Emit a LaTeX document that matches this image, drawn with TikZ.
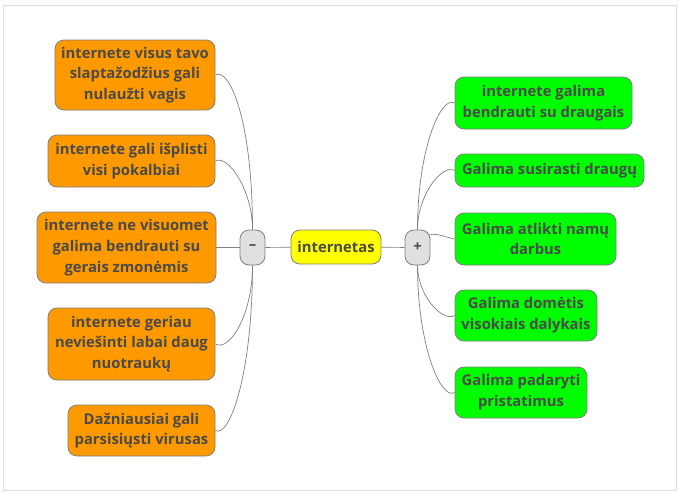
\documentclass[tikz,border=0pt]{standalone}
\usepackage{fontspec}
\setmainfont{Open Sans}
\definecolor{boxline}{HTML}{7F7F7F}
\definecolor{txt}{HTML}{4A4A4A}
\definecolor{orangebox}{HTML}{FF9900}
\definecolor{greenbox}{HTML}{00FF00}
\definecolor{yellowbox}{HTML}{FFFF00}
\definecolor{signbox}{HTML}{E0E0E0}
\definecolor{link}{HTML}{808080}
\definecolor{frame}{HTML}{DDDDDD}
\begin{document}
\begin{tikzpicture}[x=1pt,y=-1pt,
	main node/.style = {draw=boxline, rounded corners=9pt, line width=0.8pt, text=txt, align=center,
		inner sep=0pt, font=\bfseries\fontsize{14.8}{20.8}\selectfont},
	bad node/.style = {main node, fill=orangebox},
	good node/.style = {main node, fill=greenbox},
	sign node/.style = {main node, fill=signbox, minimum width=25pt, minimum height=35pt},
	branch/.style = {draw=link, line width=0.7pt}]

\useasboundingbox (0,0) rectangle (679,493);
\draw[frame, line width=1pt] (3.5,5.5) rectangle (676.5,490.5);

% centre and the two signs
\node[main node,fill=yellowbox,minimum width=90pt,minimum height=34pt] (c) at (336,247) {internetas};
\node[sign node] (m) at (252.5,247.5) {–};
\node[sign node] (p) at (417.5,247.5) {+};

% minus side
\node[bad node,minimum width=160pt,minimum height=70pt] (l1) at (135,75) {internete visus tavo\\slaptažodžius gali\\nulaužti vagis};
\node[bad node,minimum width=167pt,minimum height=52pt] (l2) at (131.5,161) {internete gali išplisti\\visi pokalbiai};
\node[bad node,minimum width=179pt,minimum height=71pt] (l3) at (126.5,247.5) {internete ne visuomet\\galima bendrauti su\\gerais zmonėmis};
\node[bad node,minimum width=167pt,minimum height=72pt] (l4) at (131.5,344) {internete geriau\\neviešinti labai daug\\nuotraukų};
\node[bad node,minimum width=147pt,minimum height=51pt] (l5) at (141.5,430.5) {Dažniausiai gali\\parsisiųsti virusas};

% plus side
\node[good node,minimum width=177pt,minimum height=52pt] (r1) at (543.5,103) {internete galima\\bendrauti su draugais};
\node[good node,minimum width=189pt,minimum height=33pt] (r2) at (549.5,170.5) {Galima susirasti draugų};
\node[good node,minimum width=161pt,minimum height=52pt] (r3) at (535.5,239) {Galima atlikti namų\\darbus};
\node[good node,minimum width=142pt,minimum height=51pt] (r4) at (526,315.5) {Galima domėtis\\visokiais dalykais};
\node[good node,minimum width=132pt,minimum height=51pt] (r5) at (521,392.5) {Galima padaryti\\pristatimus};

\draw[branch] (c) -- (m);
\draw[branch] (c) -- (p);

\draw[branch] (l1.east) to[out=30,in=90,out distance=16pt,in distance=110pt] (m.north);
\draw[branch] (l2.east) to[out=30,in=90,out distance=14pt,in distance=40pt] (m.north);
\draw[branch] (m.west) -- (l3.east);
\draw[branch] (m.south) to[out=-90,in=-30,out distance=50pt,in distance=16pt] (l4.east);
\draw[branch] (m.south) to[out=-90,in=-30,out distance=110pt,in distance=16pt] (l5.east);

\draw[branch] (p.north) to[out=90,in=150,out distance=80pt,in distance=16pt] (r1.west);
\draw[branch] (p.north) to[out=90,in=150,out distance=35pt,in distance=14pt] (r2.west);
\draw[branch] (p.45) to[out=10,in=170,out distance=8pt,in distance=8pt] (r3.west);
\draw[branch] (p.south) to[out=-90,in=-150,out distance=30pt,in distance=14pt] (r4.west);
\draw[branch] (p.south) to[out=-90,in=-150,out distance=80pt,in distance=16pt] (r5.west);
\end{tikzpicture}
\end{document}
